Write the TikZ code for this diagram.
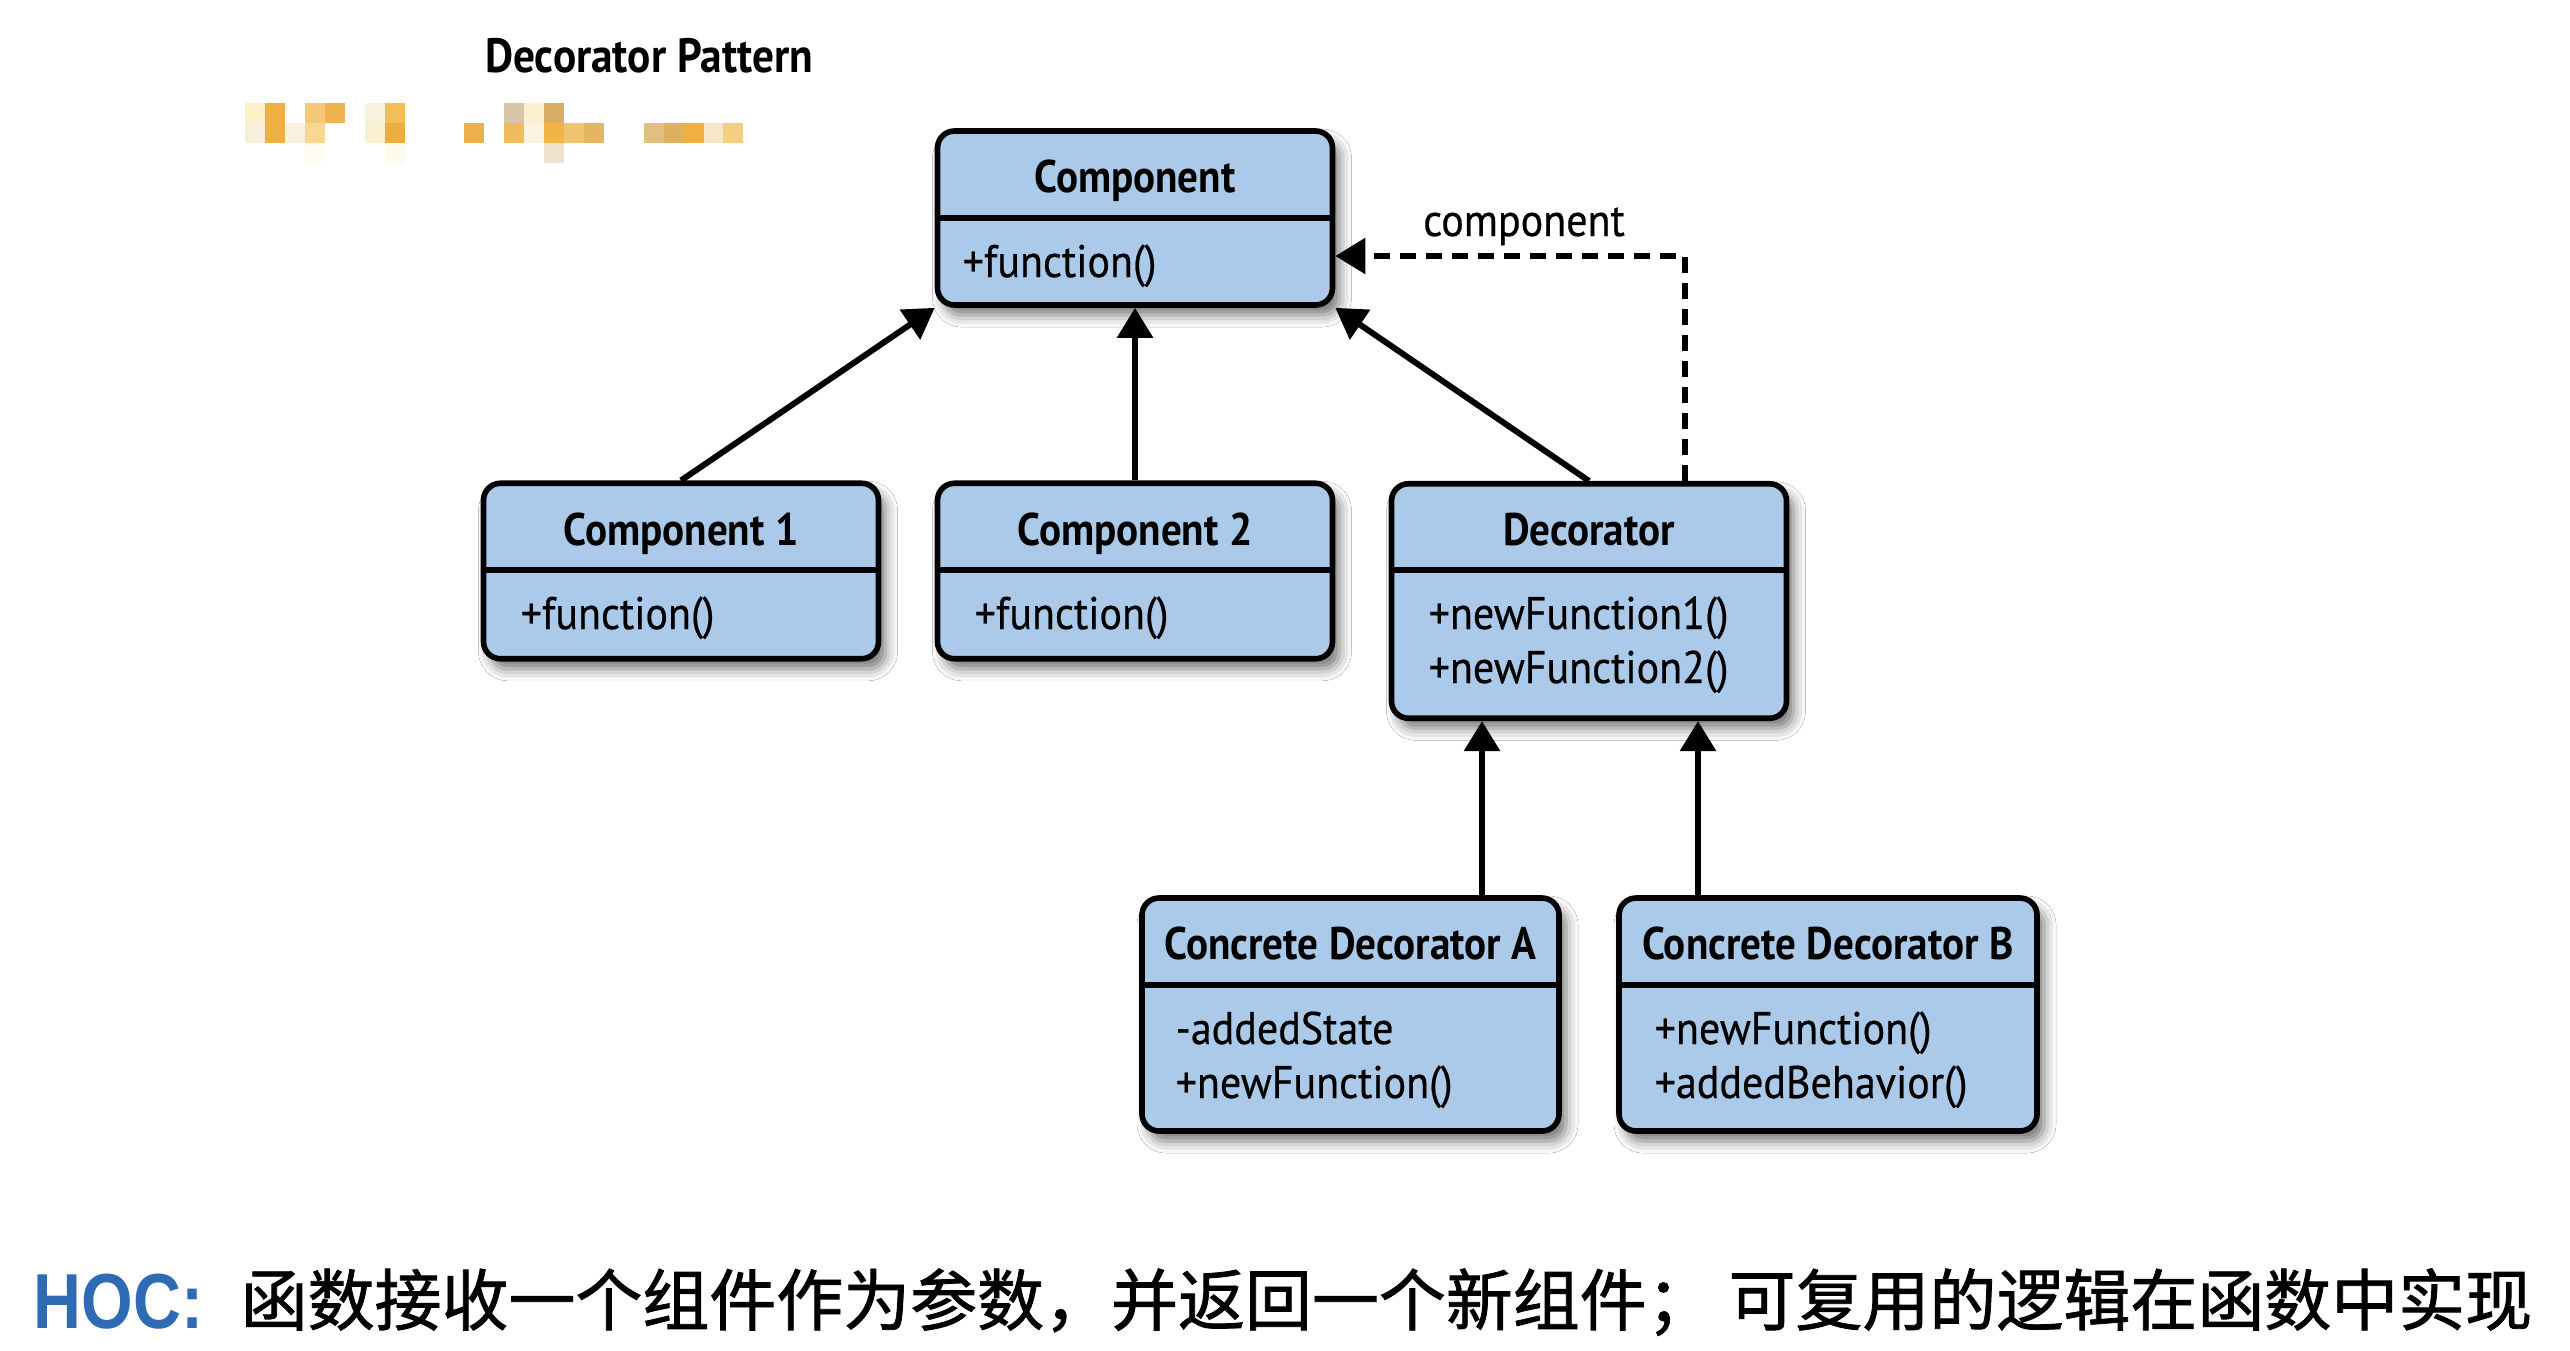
\documentclass[tikz,border=0pt]{standalone}
\usepackage{fontspec}
\newfontfamily\umlt{PT Sans}[FakeStretch=0.9]
\newfontfamily\umlr{PT Sans}[FakeStretch=0.92, FakeBold=0.5]
\newfontfamily\cjk{Noto Sans CJK SC}[FakeBold=1.2]
\newfontfamily\hocfont{Liberation Sans}[FakeStretch=0.85]
\usetikzlibrary{arrows.meta,shadows.blur}
\definecolor{boxblue}{RGB}{171,201,232}
\definecolor{hocblue}{RGB}{46,107,180}
\tikzset{
  umlbox/.style={draw=black, line width=1.6pt, rounded corners=0.17cm, fill=boxblue,
    blur shadow={shadow xshift=0.07cm, shadow yshift=-0.1cm, shadow blur radius=0.12cm, shadow opacity=55},
    inner sep=0},
  umltitle/.style={font=\umlt\bfseries\fontsize{13}{15}\selectfont, inner sep=0, anchor=base},
  umlbody/.style={font=\umlr\fontsize{13}{15}\selectfont, inner sep=0, anchor=base west},
  divider/.style={line width=1.6pt},
  inherit/.style={line width=1.7pt, -{Triangle[length=0.3cm,width=0.35cm]}},
  assoc/.style={line width=1.6pt, dash pattern=on 0.16cm off 0.1cm, -{Triangle[length=0.3cm,width=0.35cm]}}
}
\begin{document}
\begin{tikzpicture}
\fill[white] (0,0) rectangle (25.7,-13.5);
\useasboundingbox (0,0) rectangle (25.7,-13.5);

% title
\node[font=\umlt\bfseries\fontsize{13.7}{16}\selectfont, inner sep=0, anchor=base] (title) at (6.49,-0.72) {Decorator Pattern};

% mosaic
\foreach \x/\y/\c in {2.45/1.03/FDF0C8, 2.65/1.03/EEB040, 3.05/1.03/F5C878, 3.25/1.03/EEB452,
  3.65/1.03/FBF1DF, 3.85/1.03/F2BE58, 5.04/1.03/D8C6A6, 5.24/1.03/FBF1D2, 5.44/1.03/D9AE62,
  2.45/1.23/F8EEDC, 2.65/1.23/EEB040, 2.85/1.23/FAF0DE, 3.05/1.23/F8D890, 3.65/1.23/FBF0D0,
  3.85/1.23/EDAE40, 4.64/1.23/EEB048, 5.04/1.23/F0BC5C, 5.24/1.23/FCF2E0, 5.44/1.23/F2B444,
  5.64/1.23/F0C470, 5.84/1.23/E6B560, 6.44/1.23/E2BE80, 6.64/1.23/DEB060, 6.84/1.23/F0B040,
  7.04/1.23/F8E6C8, 7.23/1.23/F5CE80, 3.05/1.43/FFFCF0, 3.85/1.43/FFFAEC, 5.44/1.43/EDE2CC}
  {\definecolor{mc}{HTML}{\c}\fill[mc] (\x,-\y) rectangle ++(0.2,-0.2);}

% Component
\node[umlbox, minimum width=3.95cm, minimum height=1.74cm] (comp) at (11.35,-2.18) {};
\draw[divider] (comp.west) -- (comp.east);
\node[umltitle] (compT) at (11.35,-1.92) {Component};
\node[umlbody] (compF) at (9.62,-2.77) {+function()};

% Component 1
\node[umlbox, minimum width=3.95cm, minimum height=1.755cm] (c1) at (6.81,-5.71) {};
\draw[divider] (c1.west |- 0,-5.70) -- (c1.east |- 0,-5.70);
\node[umltitle] (c1T) at (6.81,-5.45) {Component 1};
\node[umlbody] (c1F) at (5.20,-6.29) {+function()};

% Component 2
\node[umlbox, minimum width=3.95cm, minimum height=1.755cm] (c2) at (11.35,-5.71) {};
\draw[divider] (c2.west |- 0,-5.70) -- (c2.east |- 0,-5.70);
\node[umltitle] (c2T) at (11.35,-5.45) {Component 2};
\node[umlbody] (c2F) at (9.74,-6.29) {+function()};

% Decorator
\node[umlbox, minimum width=3.95cm, minimum height=2.345cm] (dec) at (15.89,-6.01) {};
\draw[divider] (dec.west |- 0,-5.70) -- (dec.east |- 0,-5.70);
\node[umltitle] (decT) at (15.89,-5.45) {Decorator};
\node[umlbody] (decF1) at (14.28,-6.29) {+newFunction1()};
\node[umlbody] (decF2) at (14.28,-6.83) {+newFunction2()};

% Concrete Decorator A
\node[umlbox, minimum width=4.17cm, minimum height=2.33cm] (cda) at (13.505,-10.145) {};
\draw[divider] (cda.west |- 0,-9.85) -- (cda.east |- 0,-9.85);
\node[umltitle] (cdaT) at (13.505,-9.59) {Concrete Decorator A};
\node[umlbody] (cdaF1) at (11.75,-10.44) {-addedState};
\node[umlbody] (cdaF2) at (11.75,-10.98) {+newFunction()};

% Concrete Decorator B
\node[umlbox, minimum width=4.18cm, minimum height=2.33cm] (cdb) at (18.28,-10.145) {};
\draw[divider] (cdb.west |- 0,-9.85) -- (cdb.east |- 0,-9.85);
\node[umltitle] (cdbT) at (18.28,-9.59) {Concrete Decorator B};
\node[umlbody] (cdbF1) at (16.54,-10.44) {+newFunction()};
\node[umlbody] (cdbF2) at (16.54,-10.98) {+addedBehavior()};

% connectors
\draw[inherit] (c1.north) -- (comp.south west);
\draw[inherit] (c2.north) -- (comp.south);
\draw[inherit] (dec.north) -- (comp.south east);
\draw[assoc] ([xshift=0.96cm]dec.north) |- ([yshift=-0.38cm]comp.east);
\node[font=\umlr\fontsize{13}{15}\selectfont, inner sep=0, anchor=base] (lbl) at (15.24,-2.36) {component};
\draw[inherit] ([xshift=1.315cm]cda.north) -- ([xshift=1.315cm]cda.north |- dec.south);
\draw[inherit] ([xshift=-1.30cm]cdb.north) -- ([xshift=-1.30cm]cdb.north |- dec.south);

% bottom line
\node[anchor=base west, inner sep=0, font=\hocfont\bfseries\fontsize{22.2}{26}\selectfont, text=hocblue] (hoc) at (0.33,-13.28) {HOC:};
\node[anchor=base west, inner sep=0, font=\cjk\fontsize{19.05}{22}\selectfont] (desc) at (2.40,-13.25) {函数接收一个组件作为参数，并返回一个新组件； 可复用的逻辑在函数中实现};
\end{tikzpicture}
\end{document}
